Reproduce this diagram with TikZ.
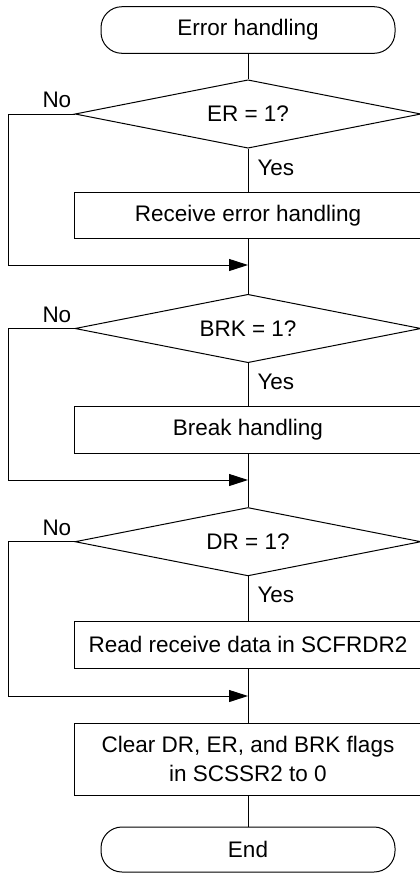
\documentclass[tikz,border=0pt]{standalone}
\usepackage{fontspec}
\setmainfont{Liberation Sans}
\usetikzlibrary{shapes.geometric,arrows.meta}
\begin{document}
\begin{tikzpicture}[x=1pt,y=1pt,
  line width=1pt,
  every node/.style={font=\fontsize{22.5}{29.5}\selectfont},
  term/.style={draw, rectangle, rounded corners=21pt, minimum width=294pt, inner sep=0pt},
  proc/.style={draw, rectangle, minimum width=348pt, inner sep=0pt, align=center},
  dec/.style={draw, diamond, aspect=5.06, minimum width=346pt, minimum height=68.4pt, inner sep=0pt},
  lbl/.style={anchor=base west, inner sep=0pt},
  flow/.style={-{Triangle[length=19pt,width=12pt]}}
]
\useasboundingbox (0,0) rectangle (420,-873);

\node[term, minimum height=46.6pt] (start) at (248,-30) {Error handling};
\node[dec] (d1) at (248,-114) {ER = 1?};
\node[proc, minimum height=45.3pt] (b1) at (248,-215.5) {Receive error handling};
\coordinate (m1) at (248,-265);
\coordinate (c1) at (8,-265);

\node[dec] (d2) at (248,-328.5) {BRK = 1?};
\node[proc, minimum height=47pt] (b2) at (248,-429.5) {Break handling};
\coordinate (m2) at (248,-480);
\coordinate (c2) at (8,-480);

\node[dec] (d3) at (248,-541.7) {DR = 1?};
\node[proc, minimum height=47pt] (b3) at (248,-644.5) {Read receive data in SCFRDR2};
\coordinate (m3) at (248,-696);
\coordinate (c3) at (8,-696);

\node[proc, minimum height=72pt] (b4) at (248,-759) {Clear DR, ER, and BRK flags\\in SCSSR2 to 0};
\node[term, minimum height=45pt] (end) at (248,-849.5) {End};

\node[lbl] (no1) at (42,-107.7) {No};
\node[lbl] (yes1) at (257,-175) {Yes};
\node[lbl] (no2) at (42,-322) {No};
\node[lbl] (yes2) at (257,-389.3) {Yes};
\node[lbl] (no3) at (42,-535.2) {No};
\node[lbl] (yes3) at (257,-602.7) {Yes};

\draw (start.south) -- (d1.north);
\draw (d1.south) -- (b1.north);
\draw (b1.south) -- (d2.north);
\draw[flow] (d1.west) -| (c1) -- (m1);

\draw (d2.south) -- (b2.north);
\draw (b2.south) -- (d3.north);
\draw[flow] (d2.west) -| (c2) -- (m2);

\draw (d3.south) -- (b3.north);
\draw (b3.south) -- (b4.north);
\draw[flow] (d3.west) -| (c3) -- (m3);

\draw (b4.south) -- (end.north);
\end{tikzpicture}
\end{document}
